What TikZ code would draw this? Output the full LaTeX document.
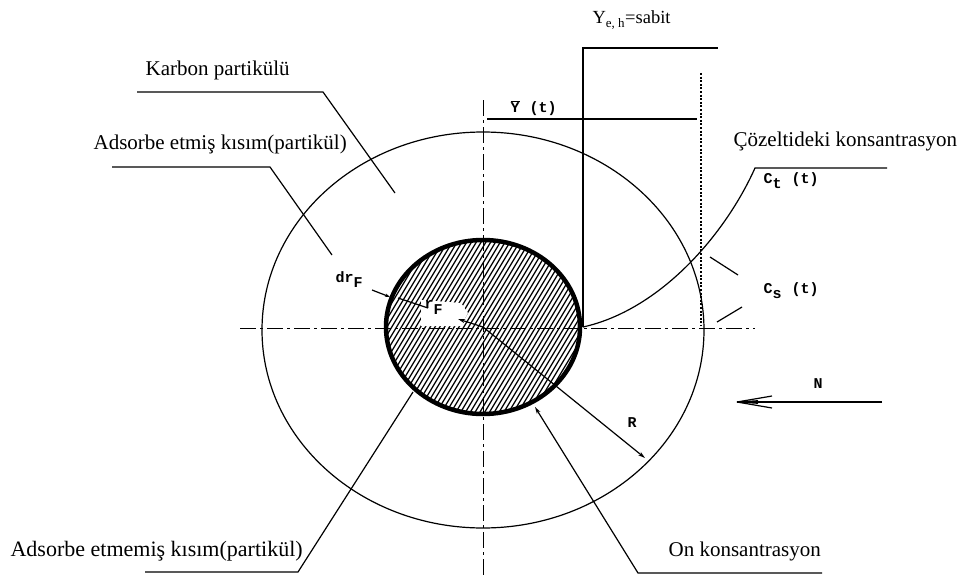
\documentclass[tikz,border=0pt]{standalone}
\usepackage{fontspec}
\setmainfont{Liberation Serif}
\setmonofont{Liberation Mono}
\usetikzlibrary{arrows.meta}
\begin{document}
\begin{tikzpicture}[x=1pt,y=-1pt,line width=1.2pt,
  lbl/.style={font=\fontsize{21}{24}\selectfont,inner sep=0pt,anchor=base west},
  mono/.style={font=\ttfamily\bfseries\fontsize{15}{17}\selectfont,inner sep=0pt,anchor=base west},
  axisline/.style={line width=1pt,dash pattern=on 16pt off 4pt on 3pt off 4pt},
  dotline/.style={line width=1.6pt,dash pattern=on 2pt off 1.6pt},
  hatch/.style={line width=1.25pt},
  tip/.style={-{Stealth[length=7pt,width=4pt]}}]
\useasboundingbox (0,0) rectangle (961,578);
\coordinate (O) at (483,327);
\coordinate (Oc) at (483,330);

% hatched core
\begin{scope}
  \clip (O) ellipse [x radius=97pt, y radius=87pt];
  \foreach \k in {-50,...,50}
    \draw[hatch] ({483+\k*4.8-60},427) -- ({483+\k*4.8+60},227);
\end{scope}
\fill[white] (421,300) -- (461,303) -- (468,313) -- (461,326) -- (421,326) -- cycle;

% outer particle
\draw (Oc) ellipse [x radius=221pt, y radius=198pt];

% centre lines
\coordinate (hl) at (240,328);
\coordinate (hr) at (755,328);
\coordinate (vt) at (483,100);
\coordinate (vb) at (483,576);
\draw[axisline] (hl) -- (hr);
\draw[axisline] (vt) -- (vb);

% r_F and R
\coordinate (rF1) at (458,319);
\coordinate (rF2) at (428,308);
\coordinate (rF3) at (398,298);
\draw[tip] (O) -- (rF1);
\draw (rF2) -- (rF3);
\coordinate (Rend) at (645,458);
\draw[tip] (O) -- (Rend);

% core border
\draw[line width=4.5pt] (O) ellipse [x radius=97pt, y radius=87pt];

% concentration profile
\coordinate (s0) at (583,327);
\coordinate (s1) at (583,48);
\coordinate (s2) at (718,48);
\draw (s0) -- (s1) -- (s2);
\coordinate (yb1) at (487,119);
\coordinate (yb2) at (697,119);
\draw (yb1) -- (yb2);
\coordinate (d1) at (701,73);
\coordinate (d2) at (701,326);
\draw[dotline] (d1) -- (d2);
\coordinate (c1) at (755,168);
\coordinate (c2) at (887,168);
\draw (s0) .. controls (660,310) and (725,235) .. (c1) -- (c2);
\coordinate (cs1a) at (710,257); \coordinate (cs1b) at (738,275);
\coordinate (cs2a) at (717,322); \coordinate (cs2b) at (742,307);
\draw (cs1a) -- (cs1b);
\draw (cs2a) -- (cs2b);

% N arrow
\coordinate (n1) at (882,402);
\coordinate (n0) at (737,402);
\coordinate (nb1) at (772,396);
\coordinate (nb2) at (772,408);
\draw (n1) -- (n0);
\draw (n0) -- (nb1);
\draw (n0) -- (nb2);
\draw[line width=0.8pt] (n0) -- (758,400.5);
\draw[line width=0.8pt] (n0) -- (758,403.5);

% dr_F arrow
\coordinate (dr1) at (372,290);
\coordinate (dr2) at (390,297);
\draw[-{Stealth[length=5pt,width=3.5pt]}] (dr1) -- (dr2);

% leader lines
\coordinate (k1) at (137,92); \coordinate (k2) at (323,92); \coordinate (k3) at (395,193);
\draw (k1) -- (k2) -- (k3);
\coordinate (a1) at (112,167); \coordinate (a2) at (270,167); \coordinate (a3) at (332,255);
\draw (a1) -- (a2) -- (a3);
\coordinate (e1) at (145,572); \coordinate (e2) at (298,572); \coordinate (e3) at (413,392);
\draw (e1) -- (e2) -- (e3);
\coordinate (o1) at (822,573); \coordinate (o2) at (638,573); \coordinate (o3) at (535,407);
\draw[tip] (o1) -- (o2) -- (o3);

% labels
\node[lbl] (tK) at (145,76) {Karbon partikülü};
\node[lbl] (tA) at (93,149) {Adsorbe etmiş kısım(partikül)};
\node[lbl,font=\fontsize{22}{25}\selectfont] (tE) at (10,556) {Adsorbe etmemiş kısım(partikül)};
\node[lbl] (tO) at (668,556) {On konsantrasyon};
\node[lbl] (tC) at (733,146) {Çözeltideki konsantrasyon};
\node[lbl,font=\fontsize{18.5}{21}\selectfont] (tY) at (592,24) {Y\textsubscript{e, h}=sabit};

\node[mono] (tYb) at (510,112) {$\overline{\hbox{Y}}$\hspace{10pt}(t)};
\node[mono] (tCt) at (763,183) {C\raisebox{-5pt}{t}\hspace{10pt}(t)};
\node[mono] (tCs) at (763,293) {C\raisebox{-5pt}{s}\hspace{10pt}(t)};
\node[mono] (tdr) at (335,282) {dr\raisebox{-5pt}{F}};
\node[mono] (trF) at (424,308) {r\raisebox{-6pt}{F}};
\node[mono] (tR) at (627,427) {R};
\node[mono] (tN) at (813,388) {N};
\end{tikzpicture}
\end{document}
